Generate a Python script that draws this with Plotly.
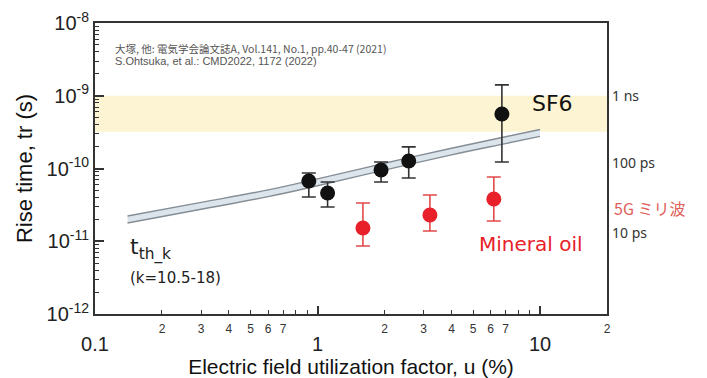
import math
import plotly.graph_objects as go

# ---- data ----
gas_u = [0.914, 1.11, 1.93, 2.57, 6.74]
gas_tr = [6.73e-11, 4.61e-11, 9.53e-11, 1.27e-10, 5.61e-10]
gas_tr_hi = [8.67e-11, 6.52e-11, 1.23e-10, 1.98e-10, 1.41e-9]
gas_tr_lo = [4.06e-11, 2.96e-11, 6.52e-11, 7.40e-11, 1.23e-10]

oil_u = [1.60, 3.20, 6.20]
oil_tr = [1.52e-11, 2.30e-11, 3.81e-11]
oil_tr_hi = [3.36e-11, 4.32e-11, 7.64e-11]
oil_tr_lo = [8.6e-12, 1.38e-11, 1.90e-11]

curve_u = [0.14, 0.3, 0.6, 1, 2, 4, 7, 10]
curve_lower = [1.78e-11, 2.75e-11, 4.10e-11, 5.80e-11, 9.50e-11, 1.54e-10, 2.20e-10, 2.76e-10]
curve_upper = [2.22e-11, 3.42e-11, 5.08e-11, 7.20e-11, 1.18e-10, 1.90e-10, 2.73e-10, 3.43e-10]

band_u = [0.1, 20]
band_tr = [3.2e-10, 1e-9]

x_major_vals = [0.1, 1, 10]
x_major_text = ["0.1", "1", "10"]
x_minor_label_vals = [0.2, 0.3, 0.4, 0.5, 0.6, 0.7, 2, 3, 4, 5, 6, 7, 20]
x_minor_label_text = ["2", "3", "4", "5", "6", "7", "2", "3", "4", "5", "6", "7", "2"]
x_minor_tick_vals = [0.2, 0.3, 0.4, 0.5, 0.6, 0.7, 0.8, 0.9, 2, 3, 4, 5, 6, 7, 8, 9]

y_major_vals = [1e-12, 1e-11, 1e-10, 1e-9, 1e-8]
y_major_text = ["10<sup>-12</sup>", "10<sup>-11</sup>", "10<sup>-10</sup>", "10<sup>-9</sup>", "10<sup>-8</sup>"]
y_minor_vals = [m * 10.0 ** e for e in range(-12, -8) for m in range(2, 10)]

right_labels = ["1 ns", "100 ps", "10 ps"]
right_label_tr = [1e-9, 1.2e-10, 1.3e-11]

BLACK = "#111111"
RED = "#E8202A"
LBL_FONT = "DejaVu Sans, sans-serif"

fig = go.Figure()

# SF6 yellow band
fig.add_trace(go.Scatter(
    x=[band_u[0], band_u[1], band_u[1], band_u[0]],
    y=[band_tr[0], band_tr[0], band_tr[1], band_tr[1]],
    fill="toself", fillcolor="#FCF4D2", line=dict(width=0),
    mode="lines", hoverinfo="skip", showlegend=False))

# theoretical band
fig.add_trace(go.Scatter(x=curve_u, y=curve_lower, mode="lines",
                         line=dict(color="#858D95", width=1.4, shape="spline"),
                         showlegend=False))
fig.add_trace(go.Scatter(x=curve_u, y=curve_upper, mode="lines",
                         line=dict(color="#858D95", width=1.4, shape="spline"),
                         fill="tonexty", fillcolor="#DDE5EC", showlegend=False))

# gas data
fig.add_trace(go.Scatter(
    x=gas_u, y=gas_tr, mode="markers",
    marker=dict(color=BLACK, size=15),
    error_y=dict(type="data", symmetric=False,
                 array=[h - v for h, v in zip(gas_tr_hi, gas_tr)],
                 arrayminus=[v - l for l, v in zip(gas_tr_lo, gas_tr)],
                 color="#333333", thickness=1.6, width=7),
    showlegend=False))

# mineral oil data
fig.add_trace(go.Scatter(
    x=oil_u, y=oil_tr, mode="markers",
    marker=dict(color=RED, size=15),
    error_y=dict(type="data", symmetric=False,
                 array=[h - v for h, v in zip(oil_tr_hi, oil_tr)],
                 arrayminus=[v - l for l, v in zip(oil_tr_lo, oil_tr)],
                 color="#E24A4A", thickness=1.6, width=7),
    showlegend=False))

font_main = "Liberation Sans, Arial, sans-serif"

# the page body adds an 8 px offset, so the figure is 699x370
fig.update_layout(
    width=699, height=370,
    margin=dict(l=87, r=100, t=15, b=64),
    paper_bgcolor="white", plot_bgcolor="white",
    font=dict(family=font_main, color="#222222"),
    xaxis=dict(
        type="log", range=[-1, math.log10(20)], automargin=False,
        tickmode="array", tickvals=x_major_vals, ticktext=x_major_text,
        ticks="inside", ticklen=8, tickwidth=1.5, tickcolor="#333333",
        tickfont=dict(size=20, color="#222222"),
        ticklabelstandoff=11,
        minor=dict(tickmode="array", tickvals=x_minor_tick_vals,
                   ticks="inside", ticklen=4, tickwidth=1.2, tickcolor="#333333"),
        showline=True, linecolor="#333333", linewidth=2, mirror=True,
        showgrid=False, zeroline=False,
        title=dict(text="Electric field utilization factor, u (%)",
                   font=dict(size=21, color="#111111"), standoff=4),
    ),
    xaxis2=dict(
        type="log", range=[-1, math.log10(20)], overlaying="x", anchor="y",
        side="bottom", automargin=False,
        tickmode="array", tickvals=x_minor_label_vals, ticktext=x_minor_label_text,
        ticks="", tickfont=dict(size=12, color="#333333"), ticklabelstandoff=6,
        showline=False, showgrid=False, zeroline=False,
    ),
    yaxis=dict(
        type="log", range=[-12, -8], automargin=False,
        tickmode="array", tickvals=y_major_vals, ticktext=y_major_text,
        ticks="inside", ticklen=9, tickwidth=1.5, tickcolor="#333333",
        tickfont=dict(size=20, color="#222222"),
        minor=dict(tickmode="array", tickvals=y_minor_vals,
                   ticks="inside", ticklen=4, tickwidth=1.2, tickcolor="#333333"),
        showline=True, linecolor="#333333", linewidth=2, mirror=True,
        showgrid=False, zeroline=False,
        title=dict(text="Rise time, tr (s)", font=dict(size=22, color="#111111"),
                   standoff=8),
    ),
)

# invisible point so xaxis2 is drawn
fig.add_trace(go.Scatter(x=[1], y=[1e-8], xaxis="x2", mode="markers",
                         marker=dict(opacity=0), hoverinfo="skip", showlegend=False))

annots = []
annots.append(dict(text="大塚, 他: 電気学会論文誌A, Vol.141, No.1, pp.40-47 (2021)",
                   xref="paper", yref="paper", x=(113 - 95) / 512, y=(314 - 48) / 291,
                   xanchor="left", yanchor="middle", showarrow=False,
                   font=dict(family="Noto Sans CJK JP, Liberation Sans", size=10.5, color="#555555")))
annots.append(dict(text="S.Ohtsuka, et al.: CMD2022, 1172 (2022)",
                   xref="paper", yref="paper", x=(113 - 95) / 512, y=(314 - 61) / 291,
                   xanchor="left", yanchor="middle", showarrow=False,
                   font=dict(family="Liberation Sans, Arial", size=11, color="#555555")))
annots.append(dict(text="SF6", xref="x", yref="y", x=math.log10(9.0), y=math.log10(7.8e-10),
                   xanchor="left", yanchor="middle", showarrow=False,
                   font=dict(family=LBL_FONT, size=22, color="#111111")))
annots.append(dict(text="Mineral oil", xref="x", yref="y", x=math.log10(5.2), y=math.log10(9.2e-12),
                   xanchor="left", yanchor="middle", showarrow=False,
                   font=dict(family=LBL_FONT, size=20, color=RED)))
annots.append(dict(text="t<sub>th_k</sub>", xref="x", yref="y", x=math.log10(0.141), y=math.log10(7.8e-12),
                   xanchor="left", yanchor="middle", showarrow=False,
                   font=dict(family=LBL_FONT, size=22, color="#222222")))
annots.append(dict(text="(k=10.5-18)", xref="x", yref="y", x=math.log10(0.141), y=math.log10(3.1e-12),
                   xanchor="left", yanchor="middle", showarrow=False,
                   font=dict(family=LBL_FONT, size=15, color="#222222")))
for t, v in zip(right_labels, right_label_tr):
    annots.append(dict(text=t, xref="paper", yref="y", x=1.006, y=math.log10(v),
                       xanchor="left", yanchor="middle", showarrow=False,
                       font=dict(family="Noto Sans, sans-serif", size=14, color="#333333")))
annots.append(dict(text="5G ミリ波", xref="paper", yref="y", x=1.01, y=math.log10(2.9e-11),
                   xanchor="left", yanchor="middle", showarrow=False,
                   font=dict(family="Noto Sans CJK JP, sans-serif", size=16, color="#E0605A")))
fig.update_layout(annotations=annots)

fig.write_html("out.html")
